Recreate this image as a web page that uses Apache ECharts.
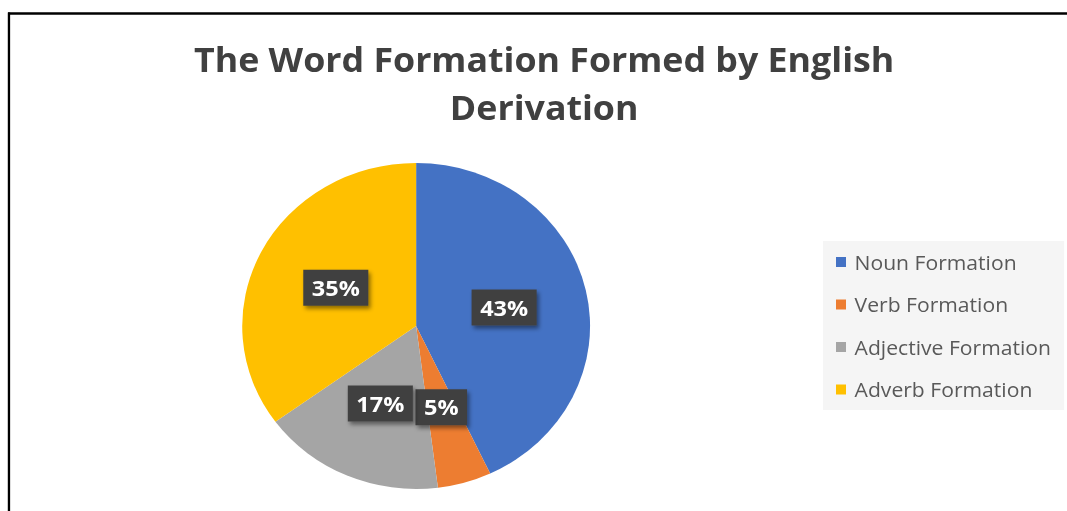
<!DOCTYPE html>
<html>
<head>
<meta charset="utf-8">
<script src="https://cdn.jsdelivr.net/npm/echarts@6/dist/echarts.min.js"></script>
<style>
html,body{margin:0;padding:0;background:#fff;overflow:hidden;}
#wrap{width:1067px;height:511px;overflow:hidden;}
#chart{width:1000px;height:511px;transform:scaleX(1.067);transform-origin:0 0;}
</style>
</head>
<body>
<div id="wrap"><div id="chart"></div></div>
<script>
const titleText = 'The Word Formation Formed by English\nDerivation';
const categories = ['Noun Formation', 'Verb Formation', 'Adjective Formation', 'Adverb Formation'];
const values = [43, 5, 17, 35];
const colors = ['#4472C4', '#ED7D31', '#A5A5A5', '#FFC000'];

const chart = echarts.init(document.getElementById('chart'), null, { renderer: 'svg' });
const option = {
  animation: false,
  backgroundColor: '#ffffff',
  title: {
    text: titleText,
    left: 510,
    top: 35,
    textAlign: 'center',
    padding: 0,
    textStyle: {
      fontFamily: 'Open Sans',
      fontWeight: 'bold',
      fontSize: 33.5,
      lineHeight: 48,
      color: '#404040'
    }
  },
  graphic: [
    { type: 'rect', shape: { x: 771.3, y: 241, width: 226, height: 169 }, style: { fill: '#f5f5f5' }, z: -1 },
    { type: 'line', shape: { x1: 7.5, y1: 13.5, x2: 1000, y2: 13.5 }, style: { stroke: '#000', lineWidth: 2.5 } },
    { type: 'line', shape: { x1: 8.4, y1: 12.5, x2: 8.4, y2: 511 }, style: { stroke: '#000', lineWidth: 2.2 } }
  ],
  legend: {
    orient: 'vertical',
    left: 783.5,
    top: 252,
    padding: 0,
    itemWidth: 9.4,
    itemHeight: 10,
    itemGap: 22.5,
    icon: 'rect',
    data: categories,
    textStyle: {
      fontFamily: 'Open Sans',
      fontSize: 19.8,
      lineHeight: 20,
      color: '#595959',
      padding: [0, 0, 0, 3]
    }
  },
  series: [{
    type: 'pie',
    center: [390, 326],
    radius: 163,
    startAngle: 90,
    clockwise: true,
    label: {
      show: true,
      position: 'inside',
      formatter: '{c}%',
      fontFamily: 'Open Sans',
      fontWeight: 'bold',
      fontSize: 22,
      color: '#ffffff',
      backgroundColor: '#404040',
      padding: [7, 8],
      shadowColor: 'rgba(0,0,0,0.45)',
      shadowBlur: 4,
      shadowOffsetX: 2,
      shadowOffsetY: 3
    },
    labelLine: { show: false },
    emphasis: { disabled: true },
    itemStyle: { borderWidth: 0 },
    data: categories.map((c, i) => ({ name: c, value: values[i], itemStyle: { color: colors[i] } }))
  }]
};
chart.setOption(option);
</script>
</body>
</html>
